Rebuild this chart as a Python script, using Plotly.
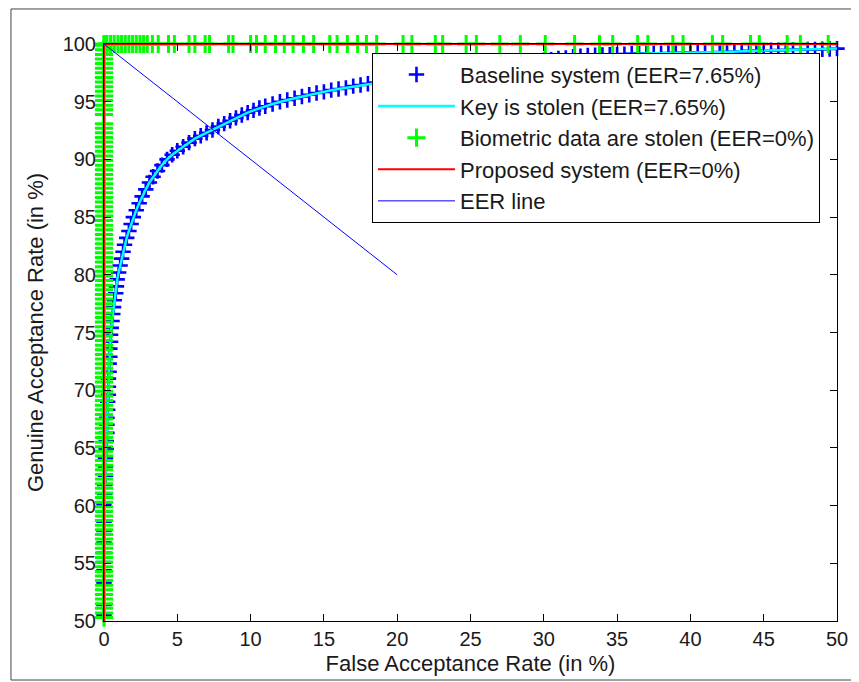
import plotly.graph_objects as go

# ---------------- data ----------------
baseline_far = [0.0, 0.0, 0.0, 0.0, 0.0, 0.0, 0.0, 0.0, 0.0, 0.0, 0.0, 0.0,
                0.05, 0.05, 0.1, 0.1, 0.1, 0.15, 0.15, 0.2, 0.2, 0.2, 0.25, 0.25,
                0.3, 0.3, 0.3, 0.35, 0.35, 0.4, 0.4, 0.45, 0.45, 0.5, 0.55, 0.6,
                0.65, 0.7, 0.8, 0.85, 0.9, 1.0, 1.1, 1.2, 1.3, 1.4, 1.55, 1.7,
                1.85, 2.0, 2.2, 2.4, 2.6, 2.85, 3.1, 3.35, 3.65, 3.95, 4.3, 4.65,
                5.0, 5.4, 5.8, 6.2, 6.6, 7.0, 7.4, 7.8, 8.2, 8.6, 9.0, 9.4,
                9.8, 10.2, 10.6, 11.0, 11.5, 12.0, 12.5, 13.0, 13.5, 14.0, 14.5, 15.0,
                15.5, 16.0, 16.5, 17.0, 17.5, 18.0, 18.5, 19.0, 19.5, 20.0, 21.0, 22.0,
                23.0, 24.0, 25.0, 26.0, 27.0, 28.0, 29.0, 30.0, 30.5, 31.0, 31.5, 32.0,
                32.5, 33.0, 33.5, 34.0, 34.5, 35.0, 35.5, 36.0, 36.5, 37.0, 37.5, 38.0,
                38.5, 39.0, 39.5, 40.0, 40.5, 41.0, 41.5, 42.0, 42.5, 43.0, 43.5, 44.0,
                44.5, 45.0, 45.5, 46.0, 46.5, 47.0, 47.5, 48.0, 48.5, 49.0, 49.5, 50.0]
baseline_gar = [50.5, 51.4, 52.3, 53.3, 54.4, 55.1, 55.9, 56.8, 57.8, 58.6, 59.5, 60.1,
                61.0, 61.8, 62.6, 63.4, 64.1, 64.9, 65.6, 66.3, 67.0, 67.6, 68.3, 69.0,
                69.6, 70.3, 71.0, 71.6, 72.3, 72.9, 73.6, 74.2, 74.8, 75.4, 76.0, 76.6,
                77.2, 77.8, 78.4, 79.0, 79.6, 80.2, 80.8, 81.4, 82.0, 82.6, 83.2, 83.8,
                84.4, 85.0, 85.6, 86.2, 86.8, 87.4, 88.0, 88.5, 89.0, 89.5, 90.0, 90.4,
                90.75, 91.1, 91.45, 91.8, 92.05, 92.3, 92.55, 92.85, 93.1, 93.35, 93.6, 93.85,
                94.05, 94.25, 94.45, 94.6, 94.8, 95.0, 95.15, 95.3, 95.45, 95.6, 95.75, 95.85,
                96.0, 96.1, 96.2, 96.35, 96.45, 96.55, 96.65, 96.75, 96.85, 96.95, 97.1, 97.3,
                97.5, 97.7, 97.85, 98.0, 98.15, 98.3, 98.45, 98.6, 98.65, 98.75, 98.8, 98.9,
                98.95, 99.0, 99.02, 99.05, 99.08, 99.1, 99.12, 99.15, 99.17, 99.2, 99.2, 99.2,
                99.22, 99.22, 99.24, 99.25, 99.26, 99.27, 99.28, 99.3, 99.31, 99.32, 99.35, 99.4,
                99.42, 99.45, 99.46, 99.47, 99.48, 99.5, 99.51, 99.52, 99.53, 99.55, 99.57, 99.6]

# "Biometric data are stolen": vertical run at FAR = 0 ...
stolen_vertical_gar = [
    50.3, 50.7, 51.1, 51.5, 51.9, 52.3, 52.7, 53.1, 53.5, 53.9, 54.3, 54.7, 55.1, 55.5,
    55.9, 56.3, 56.7, 57.1, 57.5, 57.9, 58.3, 58.7, 59.1, 59.5, 59.9, 60.3, 60.7, 61.1,
    61.5, 61.9, 62.3, 62.7, 63.1, 63.5, 63.9, 64.3, 64.7, 65.1, 65.5, 65.9, 66.3, 66.7,
    67.1, 67.5, 67.9, 68.3, 68.7, 69.1, 69.5, 69.9, 70.3, 70.7, 71.1, 71.5, 71.9, 72.3,
    72.7, 73.1, 73.5, 73.9, 74.3, 74.7, 75.1, 75.5, 75.9, 76.3, 76.7, 77.1, 77.5, 77.9,
    78.3, 78.7, 79.1, 79.5, 79.9, 80.3, 80.7, 81.1, 81.5, 81.9, 82.3, 82.7, 83.1, 83.5,
    83.9, 84.3, 84.7, 85.1, 85.5, 85.9, 86.3, 86.7, 87.1, 87.5, 87.9, 88.3, 88.7, 89.1,
    89.5, 89.9, 90.3, 90.7, 91.1, 91.5, 91.9, 92.3, 92.7, 93.1, 93.9, 94.3, 94.7, 95.1,
    95.5, 95.9, 96.3, 96.7, 97.1, 97.5, 97.9, 98.3, 98.7, 99.1, 99.5, 99.9, 100.0]
# ... and horizontal run at GAR = 100
stolen_horizontal_far = [
    0.2, 0.45, 0.7, 0.95, 1.2, 1.45, 1.7, 1.95, 2.2, 2.45, 2.7, 2.95,
    3.3, 3.7, 4.4, 4.8, 5.8, 6.2, 6.9, 7.2, 8.5, 8.8, 10.0, 10.4,
    11.0, 11.7, 12.3, 12.9, 13.6, 14.3, 15.4, 15.9, 16.6, 17.3, 17.9, 18.6,
    20.4, 21.0, 22.6, 23.1, 24.7, 25.4, 27.0, 28.4, 30.1, 32.1, 33.8, 34.7,
    36.4, 37.1, 38.8, 39.5, 41.5, 42.2, 44.1, 44.7, 46.6, 47.5, 49.4]

stolen_far = [0.0] * len(stolen_vertical_gar) + stolen_horizontal_far
stolen_gar = stolen_vertical_gar + [100.0] * len(stolen_horizontal_far)

proposed_far = [0.0, 0.0, 50.0]
proposed_gar = [50.0, 100.0, 100.0]

eer_far = [0.0, 20.0]
eer_gar = [100.0, 80.0]

x_ticks = [0, 5, 10, 15, 20, 25, 30, 35, 40, 45, 50]
y_ticks = [50, 55, 60, 65, 70, 75, 80, 85, 90, 95, 100]

names = ["Baseline system (EER=7.65%)", "Key is stolen (EER=7.65%)",
         "Biometric data are stolen (EER=0%)", "Proposed system (EER=0%)", "EER line"]

FONT = "Liberation Sans, Arial, sans-serif"

fig = go.Figure()
fig.add_trace(go.Scatter(x=baseline_far, y=baseline_gar, mode="markers", name=names[0],
                         marker=dict(symbol="cross-thin", size=11, line=dict(color="#0000FF", width=2.6)),
                         cliponaxis=False))
fig.add_trace(go.Scatter(x=baseline_far, y=baseline_gar, mode="lines", name=names[1],
                         line=dict(color="#00FFFF", width=2.5), cliponaxis=False))
fig.add_trace(go.Scatter(x=stolen_far, y=stolen_gar, mode="markers", name=names[2],
                         marker=dict(symbol="cross-thin", size=13, line=dict(color="#00FF00", width=3)),
                         cliponaxis=False))
fig.add_trace(go.Scatter(x=proposed_far, y=proposed_gar, mode="lines", name=names[3],
                         line=dict(color="#FF0000", width=2), cliponaxis=False))
fig.add_trace(go.Scatter(x=eer_far, y=eer_gar, mode="lines", name=names[4],
                         line=dict(color="#0000FF", width=1), cliponaxis=False))

axis_common = dict(showgrid=False, zeroline=False, showline=True, linecolor="#000000", linewidth=1,
                   mirror="allticks", ticks="inside", ticklen=7, tickwidth=1, tickcolor="#000000",
                   automargin=False,
                   tickfont=dict(family=FONT, size=20, color="#1a1a1a"))

fig.update_xaxes(range=[0, 50], tickvals=x_ticks, ticktext=[str(v) for v in x_ticks],
                 ticklabelstandoff=0,
                 title=dict(text="False Acceptance Rate (in %)", font=dict(family=FONT, size=22, color="#1a1a1a"),
                            standoff=6), **axis_common)
fig.update_yaxes(range=[50, 100], tickvals=y_ticks, ticktext=[str(v) for v in y_ticks],
                 ticklabelstandoff=3,
                 title=dict(text="Genuine Acceptance Rate (in %)", font=dict(family=FONT, size=22, color="#1a1a1a"),
                            standoff=12), **axis_common)

# the page body adds an 8px offset, so the figure is 8px smaller and shifted
fig.update_layout(
    width=851, height=674,
    margin=dict(l=96, r=22, t=36, b=61),
    paper_bgcolor="#FFFFFF", plot_bgcolor="#FFFFFF",
    showlegend=True,
    legend=dict(x=0.3656, y=0.985, xanchor="left", yanchor="top",
                bgcolor="#FFFFFF", bordercolor="#000000", borderwidth=1,
                font=dict(family=FONT, size=22, color="#1a1a1a"), itemwidth=77),
    shapes=[dict(type="rect", xref="paper", yref="paper",
                 x0=-0.1269, x1=1.0273, y0=-0.1023, y1=1.0607,
                 line=dict(color="#444444", width=1), fillcolor="rgba(0,0,0,0)", layer="below")],
)

fig.write_html("out.html")
